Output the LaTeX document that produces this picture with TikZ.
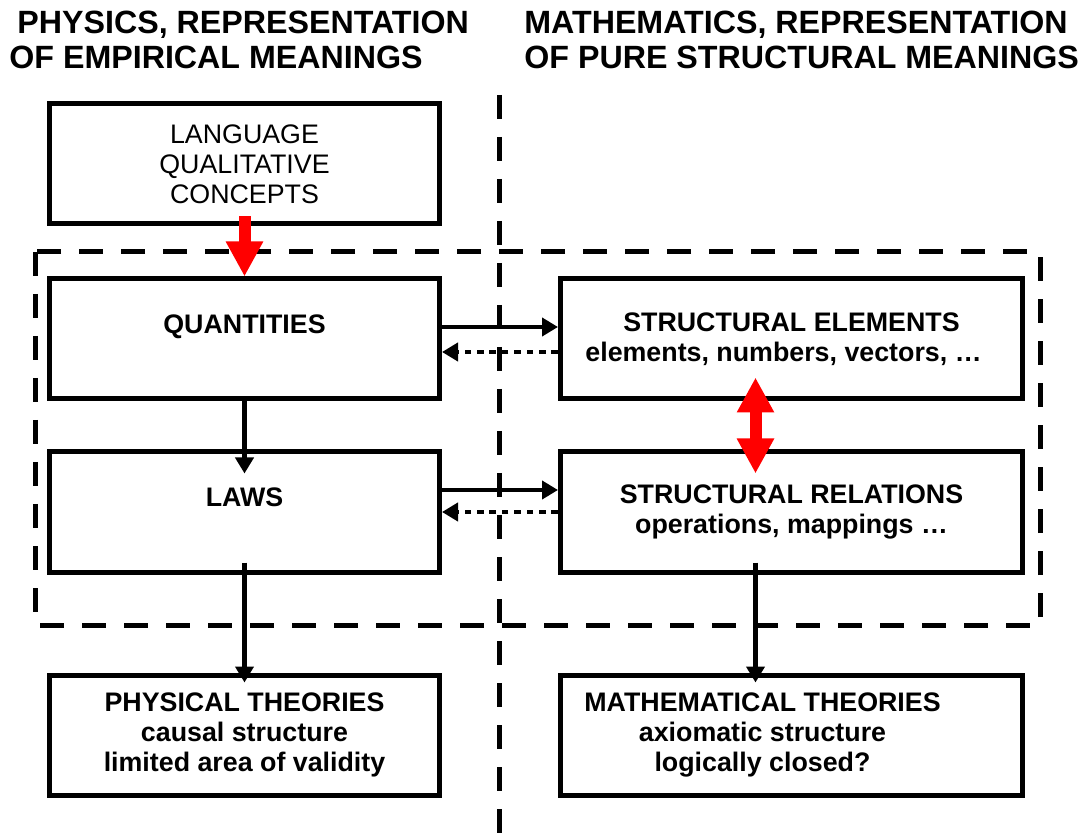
\documentclass[tikz,border=0pt]{standalone}
\usepackage{fontspec}
\setmainfont{Liberation Sans}
\usetikzlibrary{arrows.meta,positioning}

\begin{document}
\begin{tikzpicture}[
    x=0.5pt, y=-0.5pt,
    box/.style={rectangle, draw=black, line width=2.5pt, minimum width=195pt, minimum height=60pt, align=center, font=\fontsize{13.4}{15}\selectfont\bfseries},
    widebox/.style={box, minimum width=231pt},
    heading/.style={anchor=north west, inner sep=0pt, align=left, font=\fontsize{16.1}{17.5}\selectfont\bfseries},
    arr/.style={-{Triangle[length=8pt,width=9pt]}, line width=2.3pt, black},
    back/.style={-{Triangle[length=8pt,width=9pt]}, line width=2.3pt, black, dash pattern=on 3.3pt off 2.9pt},
    redarr/.style={-{Triangle[length=17.5pt,width=17.5pt]}, line width=6pt, red},
    redboth/.style={{Triangle[length=17.5pt,width=17.5pt]}-{Triangle[length=17.5pt,width=17.5pt]}, line width=6pt, red},
    divider/.style={line width=2.5pt, dash pattern=on 12pt off 9pt}
]
    \useasboundingbox (0,0) rectangle (1085,838);

    % Headings
    \node[heading] (physhead) at (9,11) {\hspace*{4pt}PHYSICS, REPRESENTATION\\OF EMPIRICAL MEANINGS};
    \node[heading] (mathhead) at (524,11) {MATHEMATICS, REPRESENTATION\\OF PURE STRUCTURAL MEANINGS};

    % Dividing line and dashed frame
    \coordinate (divtop) at (499,95);
    \coordinate (divbot) at (499,838);
    \coordinate (frameA) at (35,252);
    \coordinate (frameB) at (1040,625);
    \draw[divider] (divtop) -- (divbot);
    \draw[divider] (frameA) rectangle (frameB);

    % Left column — physics
    \node[box, font=\fontsize{13.4}{15}\selectfont] (lang) at (244.5,164) {LANGUAGE\\QUALITATIVE\\CONCEPTS};
    \node[box, below=25pt of lang]  (quant) {QUANTITIES\\\mbox{}};
    \node[box, below=24pt of quant] (laws)  {LAWS\\\mbox{}};
    \node[box, below=49pt of laws]  (phys)  {PHYSICAL THEORIES\\causal structure\\limited area of validity};

    % Right column — mathematics
    \node[widebox, right=58pt of quant] (selem) {STRUCTURAL ELEMENTS\\elements, numbers, vectors, …\hspace*{8pt}};
    \node[widebox, right=58pt of laws]  (srel)  {STRUCTURAL RELATIONS\\operations, mappings …};
    \node[widebox, right=58pt of phys]  (math)  {\begin{tabular}{@{}c@{}}MATHEMATICAL THEORIES\\axiomatic structure\\logically closed?\end{tabular}\hspace*{29pt}};

    % Vertical arrows
    \draw[redarr] ([yshift=5pt]lang.south) -- (quant.north);
    \draw[arr] (quant.south) -- ([yshift=-12pt]laws.north);
    \draw[arr] ([yshift=6pt]laws.south) -- ([yshift=-5pt]phys.north);
    \draw[arr] ([xshift=-18pt,yshift=6pt]srel.south) -- ([xshift=-18pt,yshift=-5pt]math.north);
    \draw[redboth] ([xshift=-18pt,yshift=12pt]selem.south) -- ([xshift=-18pt,yshift=-12pt]srel.north);

    % Horizontal arrows
    \draw[arr]  ([yshift=6pt]quant.east) -- ([yshift=6pt]selem.west);
    \draw[back] ([yshift=-6.5pt]selem.west) -- ([yshift=-6.5pt]quant.east);
    \draw[arr]  ([yshift=11pt]laws.east) -- ([yshift=11pt]srel.west);
    \draw[back] (srel.west) -- (laws.east);

\end{tikzpicture}
\end{document}
